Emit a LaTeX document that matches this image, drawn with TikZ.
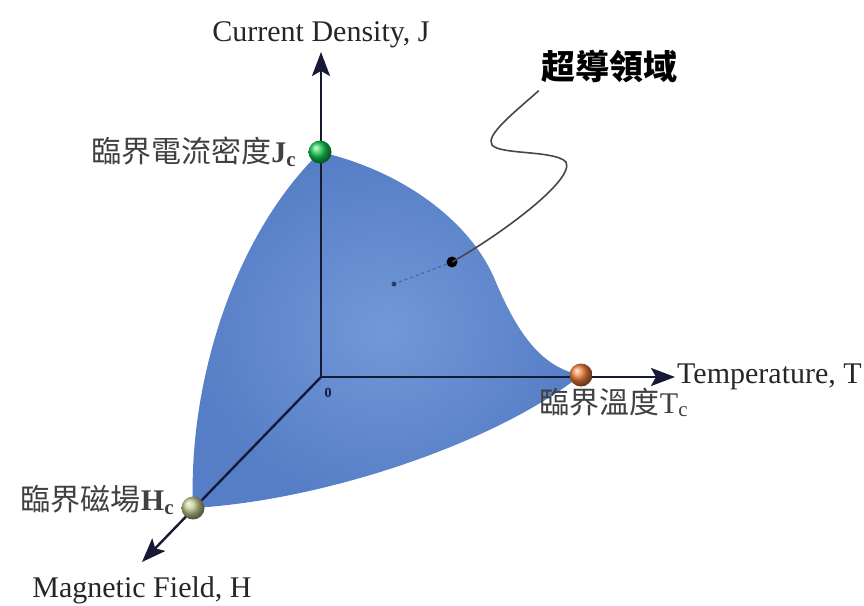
\documentclass[tikz,border=0pt]{standalone}
\usepackage{fontspec}
\setmainfont{Liberation Serif}
\newfontfamily\cjk{Noto Sans CJK TC}
\usetikzlibrary{arrows.meta, positioning, calc}
\definecolor{surfblue}{RGB}{86,126,198}
\definecolor{surflight}{RGB}{114,152,216}
\definecolor{axisdark}{RGB}{22,26,52}
\definecolor{jgreen}{RGB}{20,200,80}
\definecolor{torange}{RGB}{236,122,56}
\definecolor{hpale}{RGB}{190,200,140}
\definecolor{squiggray}{RGB}{70,70,75}
\tikzset{
  axis/.style={line width=2.4pt, color=axisdark, -{Stealth[length=24pt, width=18pt, inset=5pt]}},
  axislabel/.style={font=\fontsize{30}{34}\selectfont, inner sep=2pt, text=black!85},
  critlabel/.style={font=\fontsize{30}{34}\selectfont, inner sep=2pt, text=black!75},
  ballnode/.style={circle, shading=ball, minimum size=23pt, inner sep=0pt},
  squig/.style={line width=1.6pt, color=squiggray},
  faintline/.style={line width=1.2pt, color=axisdark, opacity=0.35, dash pattern=on 3pt off 3pt}
}
\begin{document}
\begin{tikzpicture}[x=1pt, y=-1pt]
  \useasboundingbox (0,0) rectangle (864,605);

  % Superconducting surface
  \shade[inner color=surflight, outer color=surfblue]
    (320,152) .. controls (400,170) and (470,220) .. (495,280)
    .. controls (520,340) and (545,368) .. (581,375)
    .. controls (500,440) and (330,500) .. (193,508)
    .. controls (188,390) and (230,240) .. (320,152) -- cycle;

  % Axes
  \coordinate (O) at (321,377);
  \coordinate (Jtip) at (321,52);
  \coordinate (Ttip) at (675,377);
  \coordinate (Htip) at (142,562);
  \draw[axis] (O) -- (Jtip);
  \draw[axis] (O) -- (Ttip);
  \draw[axis] (O) -- (Htip);
  \node[below=10pt of O, xshift=7pt, inner sep=1pt, text=axisdark,
    font=\fontsize{14}{14}\selectfont\bfseries] (zero) {0};

  % Critical points
  \node[ballnode, ball color=jgreen] (jball) at (320,152) {};
  \node[ballnode, ball color=torange] (tball) at (581,375) {};
  \node[ballnode, ball color=hpale] (hball) at (193,508) {};

  % Labels
  \node[axislabel, above=2pt of Jtip] (jlabel) {Current Density, J};
  \node[axislabel, right=0pt of Ttip] (tlabel) {Temperature, T};
  \node[axislabel, below=12pt of Htip] (hlabel) {Magnetic Field, H};
  \node[critlabel, left=10pt of jball] (jcrit) {{\cjk 臨界電流密度}\textbf{J\textsubscript{c}}};
  \node[critlabel, below=-1pt of tball, xshift=33pt] (tcrit) {{\cjk 臨界溫度}T\textsubscript{c}};
  \node[critlabel, left=5pt of hball, yshift=8pt] (hcrit) {{\cjk 臨界磁場}\textbf{H\textsubscript{c}}};

  % Region marker
  \node[font=\fontsize{34}{38}\selectfont\bfseries\cjk, inner sep=2pt] (region) at (609,66) {超導領域};
  \node[circle, fill=black, minimum size=11pt, inner sep=0pt] (regdot) at (452,262) {};
  \node[circle, fill=axisdark, opacity=0.7, minimum size=5pt, inner sep=0pt] (smalldot) at (394,284) {};
  \draw[faintline] (regdot) -- (smalldot);
  \coordinate[below=6pt of region.south west] (sqtail);
  \draw[squig] (sqtail) .. controls (515,112) and (485,135) .. (492,145)
    .. controls (500,155) and (555,150) .. (566,162)
    .. controls (575,180) and (500,235) .. (regdot.center);

\end{tikzpicture}
\end{document}
